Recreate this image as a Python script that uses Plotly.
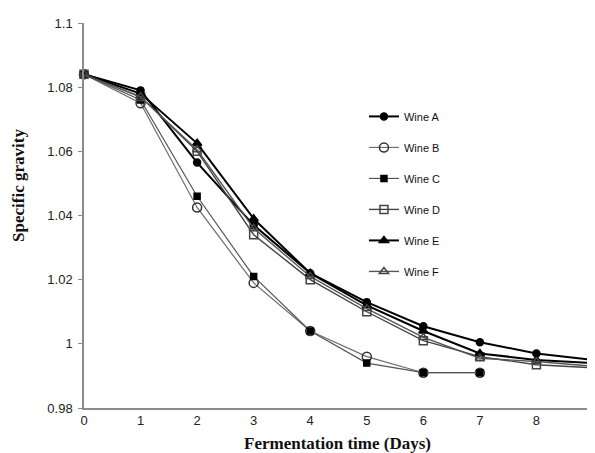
import plotly.graph_objects as go

days = [0, 1, 2, 3, 4, 5, 6, 7, 8, 9]
days_bc = [0, 1, 2, 3, 4, 5, 6, 7]

wine_a = [1.084, 1.079, 1.0565, 1.037, 1.022, 1.013, 1.0055, 1.0005, 0.997, 0.995]
wine_b = [1.084, 1.075, 1.0425, 1.019, 1.004, 0.996, 0.991, 0.991]
wine_c = [1.084, 1.076, 1.046, 1.021, 1.004, 0.994, 0.991, 0.991]
wine_d = [1.084, 1.077, 1.060, 1.034, 1.020, 1.010, 1.001, 0.996, 0.9935, 0.9925]
wine_e = [1.084, 1.078, 1.0625, 1.039, 1.022, 1.012, 1.004, 0.997, 0.995, 0.994]
wine_f = [1.084, 1.077, 1.0605, 1.036, 1.021, 1.011, 1.002, 0.9955, 0.9945, 0.993]

names = ["Wine A", "Wine B", "Wine C", "Wine D", "Wine E", "Wine F"]
y_ticks = [0.98, 1.0, 1.02, 1.04, 1.06, 1.08, 1.1]
y_tick_text = ["0.98", "1", "1.02", "1.04", "1.06", "1.08", "1.1"]

series = [
    (names[0], days, wine_a, "circle", "black", "black", 2.0, 7),
    (names[1], days_bc, wine_b, "circle-open", "#6e6e6e", "#333333", 1.2, 9),
    (names[2], days_bc, wine_c, "square", "#555555", "black", 1.2, 6),
    (names[3], days, wine_d, "square-open", "#444444", "#444444", 1.4, 8),
    (names[4], days, wine_e, "triangle-up", "black", "black", 2.0, 8),
    (names[5], days, wine_f, "triangle-up-open", "#555555", "#444444", 1.4, 8),
]

fig = go.Figure()
for i, (nm, xs, ys, sym, lc, mc, lw, ms) in enumerate(series):
    fig.add_trace(go.Scatter(
        x=xs, y=ys, name=nm, mode="lines+markers",
        line=dict(color=lc, width=lw),
        marker=dict(symbol=sym, color=mc, size=ms,
                    line=dict(color=mc, width=1.5)),
        legendgroup=f"g{i}", cliponaxis=False,
    ))

title_font = dict(family="Liberation Serif, Times New Roman", size=17, color="#111111")

fig.update_layout(
    width=587, height=445,
    margin=dict(l=76, r=2, t=15, b=45),
    paper_bgcolor="white", plot_bgcolor="white",
    font=dict(family="Liberation Sans, Arial", size=13, color="#222222"),
    showlegend=True,
    legend=dict(x=0.55, y=0.795, xanchor="left", yanchor="top",
                traceorder="grouped", tracegroupgap=12,
                font=dict(size=11, color="#111111"),
                bgcolor="rgba(0,0,0,0)", itemwidth=30),
    xaxis=dict(
        range=[0, 9], tickvals=days, ticktext=[str(d) for d in days],
        showgrid=False, zeroline=False, automargin=False,
        showline=True, linecolor="#8c8c8c", linewidth=1.5,
        ticks="", tickfont=dict(size=13, color="#222222"),
    ),
    yaxis=dict(
        range=[0.98, 1.1], tickvals=y_ticks, ticktext=y_tick_text,
        showgrid=False, zeroline=False, automargin=False,
        showline=True, linecolor="#8c8c8c", linewidth=1.5,
        ticks="outside", ticklen=4, tickcolor="#8c8c8c",
        ticklabelstandoff=3,
        tickfont=dict(size=13, color="#222222"),
    ),
    annotations=[
        dict(text="<b>Fermentation time (Days)</b>", xref="paper", yref="paper",
             x=0.499, y=-0.0935, xanchor="center", yanchor="middle",
             showarrow=False, font=title_font),
        dict(text="<b>Specific gravity</b>", xref="paper", yref="paper",
             x=-0.13, y=0.579, xanchor="center", yanchor="middle",
             textangle=-90, showarrow=False, font=title_font),
    ],
)

fig.write_html("out.html")
